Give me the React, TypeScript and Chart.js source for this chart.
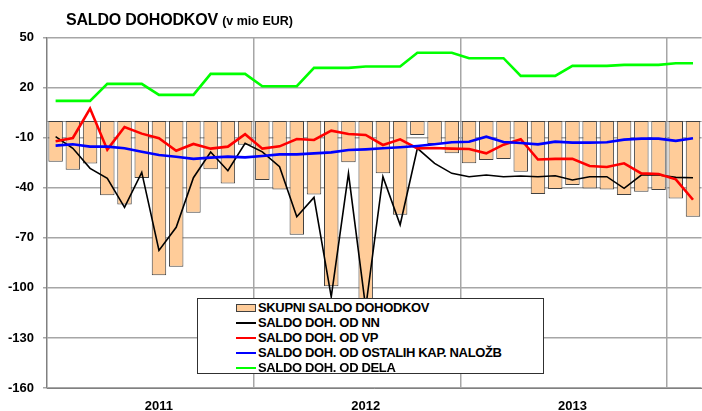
import React, { useEffect, useRef } from 'react';
import { Chart, registerables } from 'chart.js';

Chart.register(...registerables);

const categories = [
  '2011-01', '2011-02', '2011-03', '2011-04', '2011-05', '2011-06', '2011-07', '2011-08', '2011-09', '2011-10', '2011-11', '2011-12',
  '2012-01', '2012-02', '2012-03', '2012-04', '2012-05', '2012-06', '2012-07', '2012-08', '2012-09', '2012-10', '2012-11', '2012-12',
  '2013-01', '2013-02', '2013-03', '2013-04', '2013-05', '2013-06', '2013-07', '2013-08', '2013-09', '2013-10', '2013-11', '2013-12',
  '2014-01', '2014-02',
];

const yearLabels = ['2011', '2012', '2013'];
const yTicks = [-160, -130, -100, -70, -40, -10, 20, 50];

const skupni = [
  -24.5, -29.3, -25.5, -44.5, -50, -34.2, -92.5, -87.4, -55, -29, -37.5, -14.2,
  -35.4, -41, -68.2, -44, -99, -24.7, -120, -31.4, -56.2, -8.4, -13.8, -19.4,
  -25.4, -23.4, -22.8, -30.4, -43.8, -40.8, -38.4, -40.4, -41, -44.4, -42.4, -41.4,
  -46.4, -57.4,
];

const dohNN = [
  -9.4, -16.4, -28.4, -34.4, -51.8, -30.8, -77.6, -63.7, -34, -18.6, -29.8, -13.4,
  -18.5, -27.4, -57.4, -45.8, -105.4, -31.4, -112, -33.4, -62.2, -16.4, -25.4, -31.4,
  -33.4, -32.4, -33.4, -33, -33.4, -32.8, -35.4, -33.4, -33.4, -40.4, -32.4, -32.4,
  -33.8, -34,
];

const dohVP = [
  -12.2, -10.2, 7.4, -17.2, -3.6, -7.6, -10.4, -17.9, -13.8, -16.6, -15.4, -7.9,
  -16.6, -15.2, -10.8, -11.4, -5.8, -7.8, -8.4, -14.4, -11, -16.4, -16.2, -16.6,
  -16.8, -19.4, -14.2, -10.9, -23.1, -22.7, -22.7, -27, -27.6, -25.4, -31.4, -31.8,
  -35, -47.2,
];

const dohOstalih = [
  -14.8, -14, -15.4, -15.4, -16.4, -18.4, -20.4, -21.4, -22.7, -22, -21.4, -21.8,
  -21, -20, -20, -19.4, -18.8, -17.4, -17, -16.4, -15.8, -15, -14, -12.8,
  -12.5, -9.4, -12.6, -13.2, -14, -12.4, -13, -13, -12.8, -11.2, -10.6, -10.6,
  -11.9, -10.4,
];

const dohDela = [
  12, 12, 12, 22.2, 22.2, 22.2, 15.6, 15.6, 15.6, 28.2, 28.2, 28.2,
  20.8, 20.8, 20.8, 31.8, 31.8, 31.8, 32.6, 32.6, 32.6, 40.9, 40.9, 40.9,
  37.6, 37.6, 37.6, 27, 27, 27, 33, 33, 33, 33.6, 33.6, 33.6,
  34.6, 34.6,
];

const seriesNames = [
  'SKUPNI SALDO DOHODKOV',
  'SALDO DOH. OD NN',
  'SALDO DOH. OD VP',
  'SALDO DOH. OD OSTALIH KAP. NALOŽB',
  'SALDO DOH. OD DELA',
];

const FONT = '"Liberation Sans", Arial, sans-serif';
const BAR_FILL = '#FFCC99';
const BAR_BORDER = '#404040';
const LINE_COLORS = ['#000000', '#FF0000', '#0000FF', '#00FF00'];
const GRID = '#A6A6A6';

const zeroLine = {
  id: 'zeroLine',
  beforeDatasetsDraw(chart: any) {
    const { ctx, chartArea } = chart;
    const y = Math.round(chart.scales.y.getPixelForValue(0)) + 0.5;
    ctx.save();
    ctx.strokeStyle = '#909090';
    ctx.lineWidth = 1;
    ctx.beginPath();
    ctx.moveTo(chartArea.left, y);
    ctx.lineTo(chartArea.right, y);
    ctx.stroke();
    ctx.restore();
  },
};

export default function App() {
  const ref = useRef<HTMLCanvasElement | null>(null);

  useEffect(() => {
    if (!ref.current) return;
    const lineSeries = [dohNN, dohVP, dohOstalih, dohDela];
    const chart = new Chart(ref.current, {
      type: 'bar',
      data: {
        labels: categories,
        datasets: [
          {
            type: 'bar',
            label: seriesNames[0],
            data: skupni,
            backgroundColor: BAR_FILL,
            borderColor: BAR_BORDER,
            borderWidth: 1,
            borderSkipped: false,
            barPercentage: 0.84,
            categoryPercentage: 1,
            order: 10,
          } as any,
          ...lineSeries.map((d, k) => ({
            type: 'line',
            label: seriesNames[k + 1],
            data: d,
            borderColor: LINE_COLORS[k],
            backgroundColor: LINE_COLORS[k],
            borderWidth: k === 0 ? 1.6 : 2.6,
            pointRadius: 0,
            tension: 0,
            fill: false,
            order: 5 - k,
          })) as any,
        ],
      },
      options: {
        responsive: false,
        animation: false,
        layout: { padding: { top: 37.5, right: 0, left: 0, bottom: 0 } },
        plugins: {
          legend: { display: false },
          title: { display: false },
          tooltip: { enabled: false },
        },
        scales: {
          x: {
            type: 'category',
            offset: true,
            grid: {
              offset: true,
              drawTicks: false,
              color: (ctx: any) => (ctx.index > 0 && ctx.index % 12 === 0 ? GRID : 'rgba(0,0,0,0)'),
              lineWidth: 1.5,
            },
            border: { display: true, color: '#808080', width: 1 },
            ticks: {
              autoSkip: false,
              maxRotation: 0,
              minRotation: 0,
              padding: 11,
              color: '#000',
              font: { family: FONT, size: 13, weight: 'bold' },
              callback: (_v: any, index: number) =>
                index % 12 === 6 ? yearLabels[Math.floor(index / 12)] ?? '' : '',
            },
            afterFit: (scale: any) => {
              scale.height = 23;
            },
          },
          y: {
            min: yTicks[0],
            max: yTicks[yTicks.length - 1],
            grid: {
              color: GRID,
              lineWidth: 1.5,
              drawTicks: true,
              tickLength: 4,
            },
            border: { display: true, color: '#808080', width: 1.5 },
            ticks: {
              stepSize: 30,
              padding: 9,
              color: '#000',
              font: { family: FONT, size: 13, weight: 'bold' },
            },
            afterFit: (scale: any) => {
              scale.width = 47;
            },
          },
        },
      },
      plugins: [zeroLine],
    });
    return () => chart.destroy();
  }, []);

  const legendRows = [
    { kind: 'bar', color: BAR_FILL },
    { kind: 'line', color: LINE_COLORS[0] },
    { kind: 'line', color: LINE_COLORS[1] },
    { kind: 'line', color: LINE_COLORS[2] },
    { kind: 'line', color: LINE_COLORS[3] },
  ];

  return (
    <div
      style={{
        position: 'absolute',
        left: 0,
        top: 0,
        width: 702,
        height: 411,
        overflow: 'hidden',
        background: '#fff',
        fontFamily: FONT,
      }}
    >
      <canvas ref={ref} width={704} height={411} style={{ display: 'block', width: 704, height: 411 }} />
      <div
        style={{
          position: 'absolute',
          left: 66,
          top: 11.5,
          lineHeight: '16px',
          whiteSpace: 'nowrap',
          color: '#000',
          fontWeight: 'bold',
          fontSize: 16,
          letterSpacing: '-0.2px',
        }}
      >
        <span>SALDO DOHODKOV</span>{' '}
        <span style={{ fontSize: 12.5, letterSpacing: 0 }}>(v mio EUR)</span>
      </div>
      <div
        style={{
          position: 'absolute',
          left: 197,
          top: 298,
          width: 347,
          height: 76,
          border: '1px solid #303030',
          background: '#fff',
          boxSizing: 'border-box',
        }}
      >
        {legendRows.map((r, k) => (
          <div
            key={k}
            style={{
              position: 'absolute',
              left: 0,
              top: 1 + k * 15,
              height: 15,
              width: '100%',
            }}
          >
            {r.kind === 'bar' ? (
              <div
                style={{
                  position: 'absolute',
                  left: 38,
                  top: 3.5,
                  width: 20,
                  height: 8,
                  background: r.color,
                  border: `1px solid ${BAR_BORDER}`,
                  boxSizing: 'border-box',
                }}
              />
            ) : (
              <div
                style={{
                  position: 'absolute',
                  left: 38,
                  top: 6.5,
                  width: 20,
                  height: 2,
                  background: r.color,
                }}
              />
            )}
            <div
              style={{
                position: 'absolute',
                left: 60,
                top: 0,
                lineHeight: '15px',
                fontSize: 13,
                fontWeight: 'bold',
                letterSpacing: '-0.35px',
                whiteSpace: 'nowrap',
                color: '#000',
              }}
            >
              {seriesNames[k]}
            </div>
          </div>
        ))}
      </div>
    </div>
  );
}
